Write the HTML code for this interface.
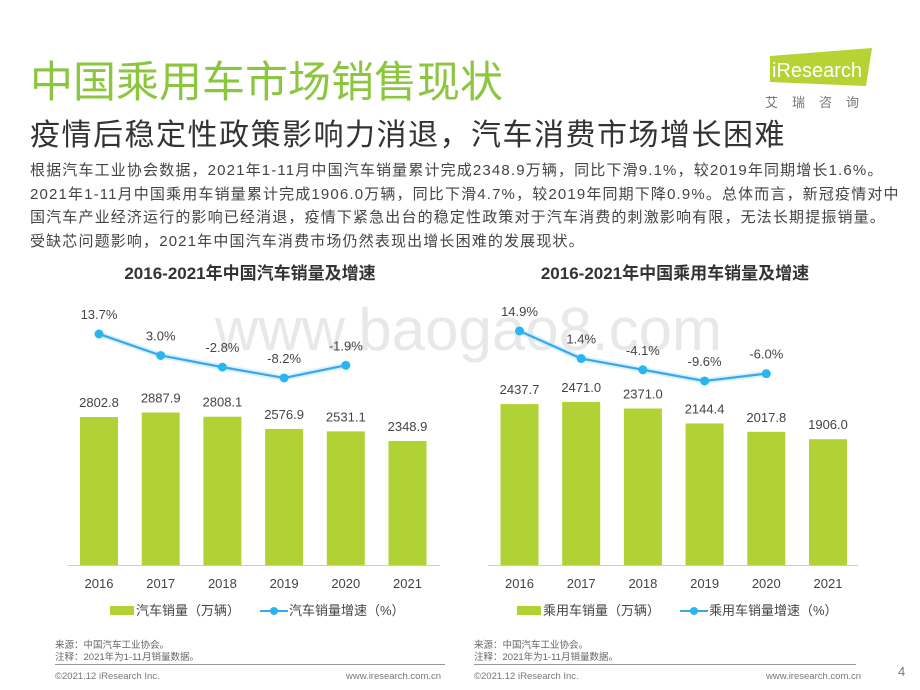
<!DOCTYPE html>
<html><head><meta charset="utf-8">
<style>
body{margin:0;width:920px;height:690px;background:#fff;overflow:hidden;position:relative;font-family:"Liberation Sans","Noto Sans CJK SC",sans-serif;}
.abs{position:absolute;white-space:nowrap;}
</style></head><body>
<div class="abs" style="left:30px;top:48px;font-size:43px;color:#8cc63f;">中国乘用车市场销售现状</div>
<div class="abs" style="left:760px;top:48px;width:112px;height:38px;">
<svg width="112" height="38"><polygon points="10,8 112,0 106,38 10,34" fill="#b5d334"/><text x="12" y="29" font-size="20" fill="#fff" font-family="Liberation Sans,sans-serif">iResearch</text></svg>
</div>
<div class="abs" style="left:765px;top:92px;font-size:13px;color:#777;letter-spacing:14px;">艾瑞咨询</div>
<div class="abs" style="left:30px;top:110px;font-size:30px;color:#333;letter-spacing:1.5px;">疫情后稳定性政策影响力消退，汽车消费市场增长困难</div>
<div class="abs" style="left:30px;top:159px;font-size:15px;letter-spacing:1.15px;line-height:23.5px;color:#444;">根据汽车工业协会数据，2021年1-11月中国汽车销量累计完成2348.9万辆，同比下滑9.1%，较2019年同期增长1.6%。<br>2021年1-11月中国乘用车销量累计完成1906.0万辆，同比下滑4.7%，较2019年同期下降0.9%。总体而言，新冠疫情对中<br>国汽车产业经济运行的影响已经消退，疫情下紧急出台的稳定性政策对于汽车消费的刺激影响有限，无法长期提振销量。<br>受缺芯问题影响，2021年中国汽车消费市场仍然表现出增长困难的发展现状。</div>
<div class="abs" style="left:80px;top:259px;width:340px;text-align:center;font-size:17px;font-weight:bold;color:#333;">2016-2021年中国汽车销量及增速</div>
<div class="abs" style="left:500px;top:259px;width:350px;text-align:center;font-size:17px;font-weight:bold;color:#333;">2016-2021年中国乘用车销量及增速</div>
<div class="abs" style="left:215px;top:295px;font-size:60px;color:rgba(180,180,180,0.3);">www.baogao8.com</div>
<svg id="charts" class="abs" style="left:0;top:0" width="920" height="690"></svg>
<div class="abs" style="left:55px;top:640px;font-size:9.5px;color:#666;line-height:12px;">来源：中国汽车工业协会。<br>注释：2021年为1-11月销量数据。</div>
<div class="abs" style="left:474px;top:640px;font-size:9.5px;color:#666;line-height:12px;">来源：中国汽车工业协会。<br>注释：2021年为1-11月销量数据。</div>
<div class="abs" style="left:55px;top:664px;width:390px;border-top:1px solid #999;"></div>
<div class="abs" style="left:474px;top:664px;width:382px;border-top:1px solid #999;"></div>
<div class="abs" style="left:55px;top:671px;font-size:9.5px;color:#777;">©2021.12 iResearch Inc.</div>
<div class="abs" style="left:346px;top:671px;font-size:9.5px;color:#777;">www.iresearch.com.cn</div>
<div class="abs" style="left:474px;top:671px;font-size:9.5px;color:#777;">©2021.12 iResearch Inc.</div>
<div class="abs" style="left:766px;top:671px;font-size:9.5px;color:#777;">www.iresearch.com.cn</div>
<div class="abs" style="left:898px;top:664px;font-size:13px;color:#777;">4</div>
<script>
const years=["2016","2017","2018","2019","2020","2021"];
const carSales=[2802.8,2887.9,2808.1,2576.9,2531.1,2348.9];
const carGrowth=[13.7,3.0,-2.8,-8.2,-1.9];
const carSalesLabels=["2802.8","2887.9","2808.1","2576.9","2531.1","2348.9"];
const carGrowthLabels=["13.7%","3.0%","-2.8%","-8.2%","-1.9%"];
const pvSales=[2437.7,2471.0,2371.0,2144.4,2017.8,1906.0];
const pvGrowth=[14.9,1.4,-4.1,-9.6,-6.0];
const pvSalesLabels=["2437.7","2471.0","2371.0","2144.4","2017.8","1906.0"];
const pvGrowthLabels=["14.9%","1.4%","-4.1%","-9.6%","-6.0%"];
const NS="http://www.w3.org/2000/svg";
const svg=document.getElementById('charts');
function mk(tag,attrs,text){const e=document.createElementNS(NS,tag);for(const k in attrs)e.setAttribute(k,attrs[k]);if(text!==undefined)e.textContent=text;svg.appendChild(e);return e;}
function chart(cfg,sales,salesL,growth,growthL,prefix,legA,legB){
  const x=i=>cfg.x0+i*cfg.step;
  const yb=v=>cfg.base-v*cfg.bs;
  const yl=v=>cfg.lz-v*cfg.ls;
  let ax=mk('line',{x1:cfg.ax1,x2:cfg.ax2,y1:cfg.base+0.5,y2:cfg.base+0.5,stroke:'#ccc','stroke-width':1});
  
  sales.forEach((v,i)=>{
    let r=mk('rect',{x:x(i)-19,y:yb(v),width:38,height:cfg.base-yb(v),fill:'#b1d235'});
    
    
    let t=mk('text',{x:x(i),y:yb(v)-10,'text-anchor':'middle','font-size':13,fill:'#444'},salesL[i]);
    
    
    let yt=mk('text',{x:x(i),y:cfg.base+23,'text-anchor':'middle','font-size':13,fill:'#444'},years[i]);
    
    
  });
  const pts=growth.map((v,i)=>x(i)+','+yl(v)).join(' ');
  let glow=mk('polyline',{points:pts,fill:'none',stroke:'#bfe9fb','stroke-width':6,'stroke-opacity':0.6});
  
  let pl=mk('polyline',{points:pts,fill:'none',stroke:'#3aa6ec','stroke-width':2.2});
  
  growth.forEach((v,i)=>{
    let c=mk('circle',{cx:x(i),cy:yl(v),r:4.5,fill:'#29b6f0'});
    
    
    let t=mk('text',{x:x(i),y:yl(v)-15,'text-anchor':'middle','font-size':13,fill:'#444'},growthL[i]);
    
    
  });
  let lr=mk('rect',{x:cfg.lg,y:606,width:24,height:9,fill:'#b1d235'});
  
  let lt=mk('text',{x:cfg.lg+26,y:615,'font-size':13,fill:'#444'},legA);
  
  let ll=mk('line',{x1:cfg.lg2,x2:cfg.lg2+28,y1:611,y2:611,stroke:'#3aa6ec','stroke-width':2});
  
  let lc=mk('circle',{cx:cfg.lg2+14,cy:611,r:4,fill:'#29b6f0'});
  
  let lt2=mk('text',{x:cfg.lg2+29,y:615,'font-size':13,fill:'#444'},legB);
  
}
chart({x0:99,step:61.7,base:565,bs:0.0528,lz:361.5,ls:2.01,ax1:68,ax2:440,lg:110,lg2:260},carSales,carSalesLabels,carGrowth,carGrowthLabels,'car','汽车销量（万辆）','汽车销量增速（%）');
chart({x0:519.5,step:61.7,base:565,bs:0.066,lz:361.4,ls:2.04,ax1:488,ax2:858,lg:517,lg2:680},pvSales,pvSalesLabels,pvGrowth,pvGrowthLabels,'pv','乘用车销量（万辆）','乘用车销量增速（%）');
</script>
</body></html>
